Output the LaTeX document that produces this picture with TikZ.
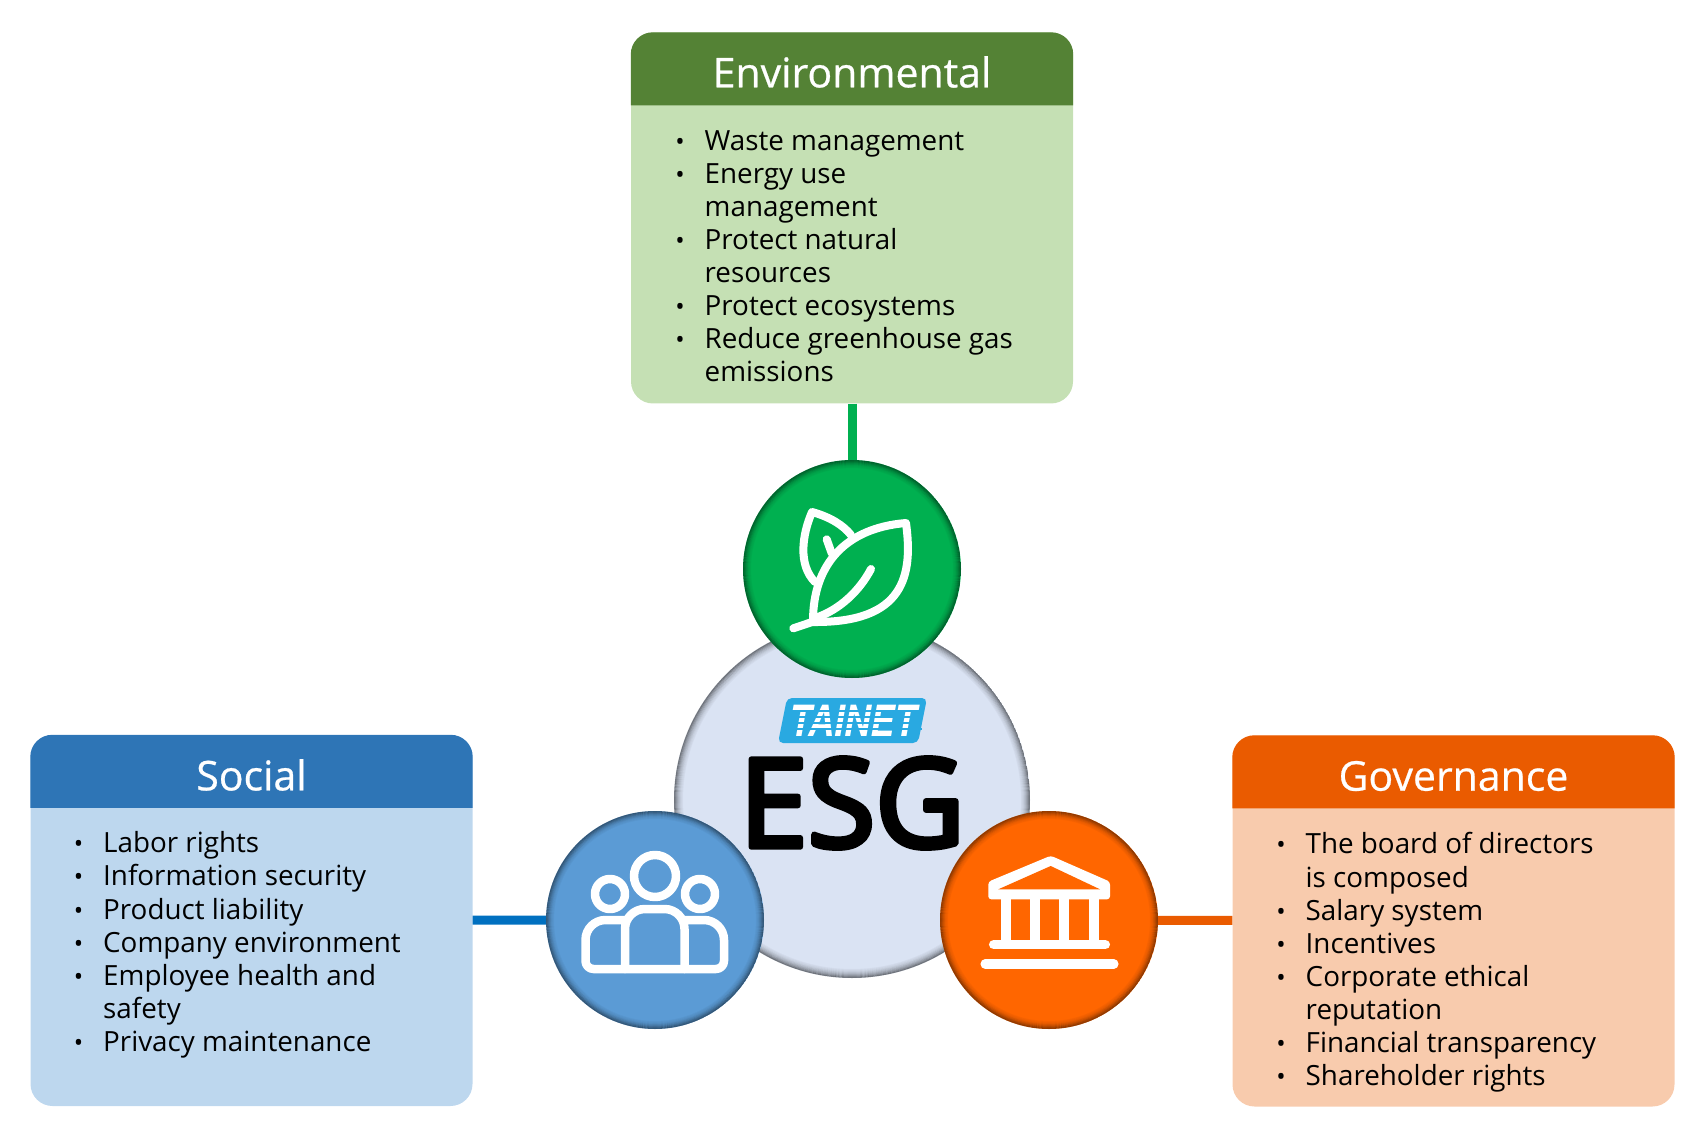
\documentclass[tikz,border=0pt]{standalone}
\usepackage{fontspec}
\setmainfont{Open Sans}
\newfontfamily\logofont{TeX Gyre Heros}
\newfontfamily\headfont[FakeBold=0.6]{Open Sans}
\newfontfamily\esgfont[FakeBold=4.5]{Open Sans}
\usetikzlibrary{calc}
\definecolor{envhead}{HTML}{548235}
\definecolor{envbody}{HTML}{C5E0B4}
\definecolor{envdisc}{HTML}{00B050}
\definecolor{sochead}{HTML}{2E75B6}
\definecolor{socbody}{HTML}{BDD7EE}
\definecolor{socdisc}{HTML}{5B9BD5}
\definecolor{socline}{HTML}{0070C0}
\definecolor{govhead}{HTML}{EA5B00}
\definecolor{govbody}{HTML}{F8CBAD}
\definecolor{govdisc}{HTML}{FF6600}
\definecolor{core}{HTML}{DAE3F3}
\definecolor{logoblue}{HTML}{29A9E1}
\newcommand{\itm}{\leavevmode\llap{{\fontsize{25}{25}\selectfont\textbullet}\hspace{20pt}}}

\begin{document}
\begin{tikzpicture}[
  x=1pt, y=-1pt,
  line join=round,
  card/.style={rectangle, rounded corners=22pt, minimum width=442pt, minimum height=371pt, inner sep=0pt},
  headtext/.style={text=white, font=\headfont\fontsize{41}{46}\selectfont, inner sep=0pt},
  listtext/.style={anchor=north west, align=left, inner sep=0pt, font=\fontsize{27.8}{33.1}\selectfont},
  disc/.style={circle, minimum size=218pt, inner sep=0pt, path picture={
    \foreach \r/\op in {108.5/0.4,107.5/0.32,106.5/0.25,105.5/0.18,104.5/0.13,103.5/0.08,102.5/0.05,101.5/0.03}
      \draw[black, opacity=\op, line width=1.1pt] (path picture bounding box.center) circle (\r);
  }},
  link/.style={line width=9pt},
  icon/.style={draw=white, line width=8pt, line cap=round, line join=round},
]
\useasboundingbox (0,0) rectangle (1700,1131);

% --- Cards: rounded body, title band on top
\node[card, fill=envbody] (envcard) at (852,218) {};
\node[card, fill=socbody] (soccard) at (251.5,920.5) {};
\node[card, fill=govbody] (govcard) at (1453.5,921) {};
\foreach \c/\h in {envcard/envhead,soccard/sochead,govcard/govhead} {
  \fill[\h, rounded corners=22pt] ($(\c.north west)+(0,73)$) [sharp corners] -- ($(\c.north west)+(0,30)$)
    [rounded corners=22pt] -- (\c.north west) -- (\c.north east) [sharp corners] -- ($(\c.north east)+(0,73)$) -- cycle;
}

% --- Titles
\node[headtext] (envtitle) at (852,72) {Environmental};
\node[headtext] (soctitle) at (251.5,775) {Social};
\node[headtext] (govtitle) at (1453.5,776) {Governance};

% --- Lists
\node[listtext] (envlist) at (704.5,130) {\itm Waste management\\\itm Energy use\\management\\\itm Protect natural\\resources\\\itm Protect ecosystems\\\itm Reduce greenhouse gas\\emissions};
\node[listtext] (soclist) at (103,831.5) {\itm Labor rights\\\itm Information security\\\itm Product liability\\\itm Company environment\\\itm Employee health and\\safety\\\itm Privacy maintenance};
\node[listtext] (govlist) at (1305.5,832.5) {\itm The board of directors\\is composed\\\itm Salary system\\\itm Incentives\\\itm Corporate ethical\\reputation\\\itm Financial transparency\\\itm Shareholder rights};

% --- Centre circle
\node[circle, minimum size=356pt, inner sep=0pt, fill=core, path picture={
    \foreach \r/\op in {177.5/0.45,176.5/0.36,175.5/0.28,174.5/0.22,173.5/0.16,172.5/0.12,171.5/0.08,170.5/0.05,169.5/0.03}
      \draw[black, opacity=\op, line width=1.1pt] (path picture bounding box.center) circle (\r);
  }] (core) at (852,800) {};

% --- Discs around the centre
\node[disc, fill=envdisc] (envdot) at (852,569) {};
\node[disc, fill=socdisc] (socdot) at (655,920) {};
\node[disc, fill=govdisc] (govdot) at (1049,920) {};

% --- Links
\draw[link, envdisc] (envcard) -- (envdot);
\draw[link, socline] (soccard) -- (socdot);
\draw[link, govhead] (govdot) -- (govcard);

% --- Logo and name
\fill[logoblue, rounded corners=5pt] (787,698) -- (927,698) -- (918,743) -- (778,743) -- cycle;
\node[inner sep=0pt, text=white, font=\logofont\bfseries\itshape\fontsize{43}{43}\selectfont] (logo) at (853,720.5) {\scalebox{0.84}[1]{TAINET}};
\foreach \y in {711,717,723,729}
  \draw[logoblue, line width=1.8pt] (790,\y) -- (922,\y);
\node[inner sep=0pt, font=\esgfont\fontsize{123}{123}\selectfont] (esg) at (852,803) {ESG};

% --- Leaf
\draw[icon] (793.3,628.3) -- (813,621.7);
\draw[icon] (813,621) .. controls (813,565) and (845,528) .. (906,523)
  .. controls (913,575) and (905,623) .. (813,622);
\draw[icon] (815,618) .. controls (840,610) and (860,590) .. (871,569);
\draw[icon] (815,582) .. controls (798,565) and (802,535) .. (812,512)
  .. controls (830,517) and (843,525) .. (851,535);
\draw[icon] (826.7,539.3) -- (831.7,553.3);

% --- People
\draw[icon, line width=8.5pt] (655,876) circle (21);
\draw[icon, line width=8.5pt] (610,894) circle (15);
\draw[icon, line width=8.5pt] (700,894) circle (15);
\draw[icon, line width=8.5pt, rounded corners=20pt] (625,969) -- (625,909) -- (684.5,909) -- (684.5,969);
\draw[icon, line width=8.5pt, rounded corners=20pt] (625,920) -- (585.5,920)
  [rounded corners=8pt] -- (585.5,969) -- (724,969) [rounded corners=20pt] -- (724,920) -- (684.5,920);

% --- Temple
\fill[white, rounded corners=3pt] (1050.7,855.7) -- (1110,881.7) -- (1110,899.3) -- (988.3,899.3) -- (988.3,881.7) -- cycle;
\fill[govdisc] (1050.7,866) -- (1100,889.3) -- (998.3,889.3) -- cycle;
\foreach \x in {1005.7,1035,1064,1093.7}
  \draw[icon, line width=10pt, line cap=butt] (\x,899) -- (\x,945);
\draw[icon, line width=9.5pt] (993.7,944.7) -- (1105.3,944.7);
\draw[icon, line width=9.7pt] (985.3,964) -- (1113.7,964);
\end{tikzpicture}
\end{document}
